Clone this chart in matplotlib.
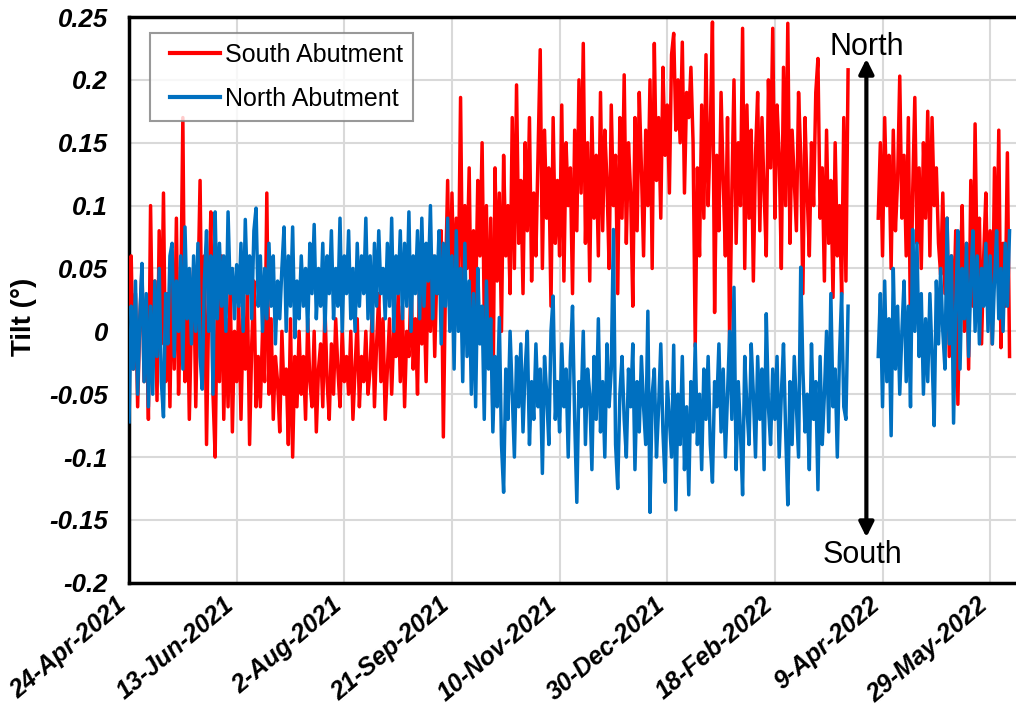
import numpy as np
import pandas as pd
import matplotlib
matplotlib.use('Agg')
import matplotlib.pyplot as plt
import matplotlib.dates as mdates
import matplotlib.transforms as mtransforms
from matplotlib.ticker import FuncFormatter

nan = np.nan

# Daily tilt readings from 24-Apr-2021, in thousandths of a degree
south_abutment = [
    20, 60, -30, 30, -60, 10, 50, -40, 20, -70,
    100, -20, 40, -55, 80, -10, 110, -40, 30, -60,
    60, -30, 90, -50, 20, 170, -40, 40, -70, 10,
    50, -60, 30, 120, -30, 60, -90, 20, 95, -50,
    -100, 30, -40, 60, -70, 10, -60, 40, -80, 0,
    -40, 20, -70, 10, -30, 30, -90, -10, 40, -60,
    -20, -60, 0, -40, 110, -50, 10, -70, -20, -40,
    -80, 0, -50, -30, -90, 10, -100, -20, -60, 0,
    -50, -20, -70, 10, -40, -60, 0, -80, -30, -10,
    -60, 20, -40, -70, -10, -50, 10, -30, -60, 0,
    -40, -20, -50, 0, -70, -30, 10, -60, -20, -40,
    0, -50, -30, 20, -60, -10, 30, -40, 10, -70,
    -30, 10, -50, 0, -20, 30, -40, 20, -60, 0,
    -20, 40, -30, 10, -50, 50, -10, 30, -40, 60,
    0, 60, -20, 50, 30, 80, -84, 40, 120, 10,
    110, 30, 90, 40, 186, 20, 100, 50, 130, 0,
    80, 20, 120, 60, 150, 10, 100, -20, 90, -70,
    130, 40, 110, 0, 140, 60, 100, 30, 170, 50,
    196, 70, 120, 30, 150, 80, 170, 40, 110, 60,
    140, 224, 50, 160, 90, 130, 20, 170, 70, 120,
    60, 180, 40, 150, 100, 130, 30, 160, 80, 200,
    110, 229, 70, 150, 40, 170, 90, 140, 60, 190,
    80, 160, 120, 50, 180, 100, 140, 30, 170, 90,
    204, 70, 150, 110, 20, 170, 80, 190, 130, 60,
    160, 100, 200, 50, 229, 120, 170, 90, 210, 140,
    180, 110, 220, 237, 160, 200, 150, 230, 110, 190,
    170, 210, 150, -12, 130, 60, 180, 90, 220, 100,
    160, 246, 15, 140, 80, 190, 120, 60, 170, -15,
    110, 200, 70, 150, 100, 241, 50, 180, 90, 160,
    40, 140, 190, 80, 170, 110, 60, 200, 130, 241,
    90, 180, 140, 50, 210, 100, 245, 70, 160, 120,
    80, 190, 140, 30, 170, 110, 60, 150, 100, 190,
    217, 90, 130, 40, 160, 70, 120, 27, 150, 60,
    100, 30, 170, 40, 208, nan, nan, nan, nan, nan,
    nan, nan, nan, nan, nan, nan, nan, nan, 90, 150,
    60, 170, 100, 140, 50, 160, 80, 120, 203, 90,
    140, 60, 170, -4, 110, 186, 70, 130, 50, 150,
    90, 175, 60, 170, 100, 130, 70, 45, 110, 30,
    90, -20, 60, 10, 80, -58, 40, 100, 0, 70,
    -30, 120, 20, 165, 40, 90, -10, 60, 110, 20,
    80, -10, 130, 40, 160, -13, 70, 20, 142, -20,
]

north_abutment = [
    -72, 20, -30, 40, -50, 10, 54, -40, 30, -60,
    20, -50, 40, -20, 50, -40, -68, 30, -10, 60,
    70, -20, 40, 0, 60, -30, 83, 10, 50, -10,
    60, 0, 70, -20, -46, 40, 80, 0, 60, -50,
    95, 10, 70, 20, 60, 0, 95, 30, 50, 10,
    53, 20, 70, 0, 89, 30, 60, 10, 80, 98,
    20, 60, 0, 50, 10, 70, 20, 60, -10, 40,
    10, 50, 83, 0, 60, 20, 83, -5, 40, 10,
    60, 20, 50, 0, 70, 30, 85, 10, 50, 20,
    70, 0, 60, 30, 80, 10, 50, 20, 90, 0,
    60, 30, 80, 10, 50, 0, 70, 20, 60, 30,
    90, 10, 60, 0, 70, 20, 80, 30, 50, 10,
    70, 20, 90, 0, 60, 30, 80, 10, 70, 20,
    95, 0, 60, 30, 80, 10, 90, 20, 70, 40,
    100, 10, 60, 30, 80, -10, 70, 20, 90, 0,
    60, -30, 80, 0, 50, -40, 70, -20, 40, -50,
    30, -60, 50, -10, 20, -70, 40, -30, 10, -80,
    -20, -60, 11, -90, -128, -30, -70, 0, -50, -100,
    -20, -60, -10, -80, -30, 0, -90, -40, -70, -10,
    -60, -30, -113, -20, -50, -90, 0, 28, -70, -40,
    -80, -10, -60, -30, -100, -20, 20, -70, -136, -40,
    -60, 0, -90, -30, -50, -110, -20, -70, 10, -80,
    -40, -100, -10, -60, -30, 81, -90, -125, -50, -20,
    -70, -100, -30, -60, -10, -110, -40, -80, -20, -60,
    -90, 16, -144, -50, -30, -100, -60, -10, -80, -120,
    -40, -70, -100, -11, -142, -50, -90, -20, -110, -60,
    -130, -40, -80, -10, -90, -50, -110, -30, -70, -20,
    -90, -120, -40, -60, -10, -80, -30, -100, -50, 0,
    -70, 35, -110, -40, -80, -130, -20, -60, -90, -10,
    -50, -100, -20, -70, -30, -110, 14, -60, -90, -30,
    -70, -20, -100, -50, -10, -80, -138, -40, -90, -20,
    -60, -100, 51, -30, -80, -50, -110, -10, -70, -40,
    -126, -20, -90, -50, 0, -80, 30, -60, -30, -100,
    -20, 30, -60, -70, 20, nan, nan, nan, nan, nan,
    nan, nan, nan, nan, nan, nan, nan, nan, -20, 30,
    -60, 40, -40, 10, -83, 50, -30, 20, -50, 0,
    40, -40, 20, -60, 81, 0, 70, -20, 30, -50,
    10, -40, 30, -20, -75, 40, -10, 50, 0, -30,
    90, -10, 60, -73, 20, 80, -30, 50, 10, 70,
    -20, 40, 80, 0, 60, -10, 50, 20, 70, 0,
    60, -10, 40, 80, 10, 50, 0, 70, 20, 80,
]

start_date = '2021-04-24'
dates = pd.date_range(start_date, periods=len(south_abutment), freq='D')
south = np.array(south_abutment, dtype=float) / 1000
north = np.array(north_abutment, dtype=float) / 1000

tick_dates = pd.date_range(start_date, periods=9, freq='50D')
y_ticks = np.arange(-0.2, 0.2501, 0.05)

plt.rcParams['font.family'] = ['Liberation Sans', 'DejaVu Sans']

fig = plt.figure(figsize=(10.16, 7.09), dpi=100)
ax = fig.add_axes([0.127, 0.178, 0.873, 0.798])

ax.plot(dates, south, color='#ff0000', lw=2.5, label='South Abutment', zorder=3)
ax.plot(dates, north, color='#0070c0', lw=2.5, label='North Abutment', zorder=4)

ax.set_xlim(pd.Timestamp(start_date), pd.Timestamp(start_date) + pd.Timedelta(days=412))
ax.set_ylim(-0.2, 0.25)
ax.set_xticks(tick_dates)
ax.xaxis.set_major_formatter(FuncFormatter(
    lambda v, p: (lambda d: f"{d.day}-{d.strftime('%b-%Y')}")(mdates.num2date(v))))
ax.set_yticks(y_ticks)
ax.yaxis.set_major_formatter(FuncFormatter(lambda v, p: f"{round(v, 2):g}" if abs(v) > 1e-9 else '0'))

ax.grid(True, color='#d9d9d9', lw=1.5)
ax.set_axisbelow(True)
for s in ['left', 'bottom', 'top']:
    ax.spines[s].set_linewidth(2.5)
ax.spines['right'].set_visible(False)
ax.tick_params(axis='y', length=0, pad=15)
ax.tick_params(axis='x', length=0, pad=14)

for lab in ax.get_yticklabels():
    lab.set_fontsize(18.5)
    lab.set_fontweight('bold')
    lab.set_fontstyle('italic')
shift = mtransforms.ScaledTranslation(-4 / 72, 0, fig.dpi_scale_trans)
for lab in ax.get_xticklabels():
    lab.set_fontsize(18)
    lab.set_fontweight('bold')
    lab.set_fontstyle('italic')
    lab.set_rotation(40)
    lab.set_ha('right')
    lab.set_va('center')
    lab.set_rotation_mode('anchor')
    lab.set_transform(lab.get_transform() + shift)

ax.set_ylabel('Tilt (°)', fontsize=20, fontweight='bold')
ax.yaxis.set_label_coords(-0.104, 0.47)

leg = ax.legend(loc='upper left', bbox_to_anchor=(0.0237, 0.972), fontsize=18,
                frameon=True, fancybox=False, handlelength=2.4, borderpad=0.4,
                borderaxespad=0, labelspacing=0.8, handletextpad=0.2)
leg.get_frame().set_edgecolor('#808080')
leg.get_frame().set_linewidth(1.5)
for line in leg.get_lines():
    line.set_linewidth(3)
    xd = np.asarray(line.get_xdata(), dtype=float)
    line.set_xdata(np.linspace(xd[0] + 7, xd[-1], len(xd)))

arrow_x = pd.Timestamp(start_date) + pd.Timedelta(days=342.5)
ax.annotate('', xy=(arrow_x, 0.219), xytext=(arrow_x, -0.166),
            arrowprops=dict(arrowstyle='<|-|>', color='black', lw=3, mutation_scale=22),
            zorder=6)
ax.text(arrow_x, 0.226, 'North', fontsize=22, ha='center', va='center', zorder=6)
ax.text(arrow_x - pd.Timedelta(days=2), -0.178, 'South', fontsize=22, ha='center', va='center', zorder=6)

fig.savefig('out.png', dpi=100)
